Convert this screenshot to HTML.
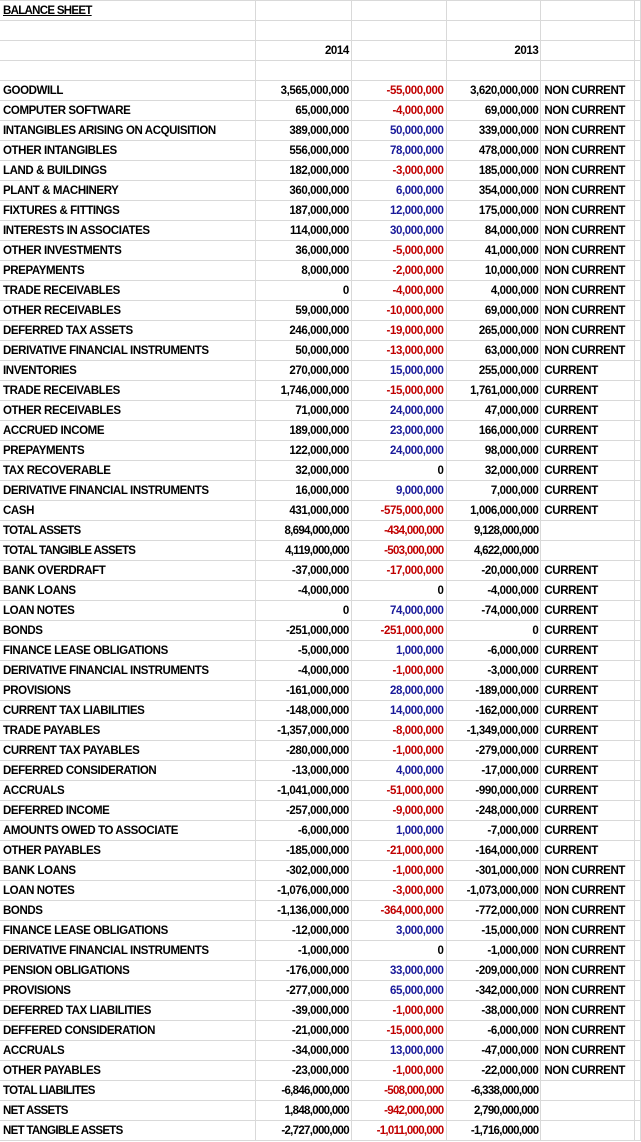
<!DOCTYPE html>
<html><head><meta charset="utf-8"><style>
html,body{margin:0;padding:0;background:#fff;}
body{width:641px;height:1142px;overflow:hidden;}
table{border-collapse:collapse;table-layout:fixed;position:absolute;left:0;top:0;font-family:"Liberation Sans",Arial,sans-serif;font-weight:bold;font-size:11.5px;color:#000;}
td{height:17px;border-right:1px solid #d9d9d9;border-bottom:1px solid #d9d9d9;padding:2px 2px 0 3px;white-space:nowrap;overflow:hidden;line-height:17px;letter-spacing:-0.4px;vertical-align:top;}
tr:first-child td{border-top:1px solid #d9d9d9;}
td.n{text-align:right;padding-right:2px;}
.r{color:#c00000;}.b{color:#1a1a9a;}
.t td{letter-spacing:-0.7px;}
u{text-decoration:underline;}
</style></head><body>
<table>
<colgroup><col style="width:258px"><col style="width:97px"><col style="width:96px"><col style="width:96px"><col style="width:94px"><col style="width:4px"></colgroup>
<tr class="t"><td><u>BALANCE SHEET</u></td><td></td><td></td><td></td><td></td><td></td></tr>
<tr><td></td><td></td><td></td><td></td><td></td><td></td></tr>
<tr><td></td><td class="n">2014</td><td></td><td class="n">2013</td><td></td><td></td></tr>
<tr><td></td><td></td><td></td><td></td><td></td><td></td></tr>
<tr><td>GOODWILL</td><td class="n">3,565,000,000</td><td class="n r">-55,000,000</td><td class="n">3,620,000,000</td><td>NON CURRENT</td><td></td></tr>
<tr><td>COMPUTER SOFTWARE</td><td class="n">65,000,000</td><td class="n r">-4,000,000</td><td class="n">69,000,000</td><td>NON CURRENT</td><td></td></tr>
<tr><td>INTANGIBLES ARISING ON ACQUISITION</td><td class="n">389,000,000</td><td class="n b">50,000,000</td><td class="n">339,000,000</td><td>NON CURRENT</td><td></td></tr>
<tr><td>OTHER INTANGIBLES</td><td class="n">556,000,000</td><td class="n b">78,000,000</td><td class="n">478,000,000</td><td>NON CURRENT</td><td></td></tr>
<tr><td>LAND &amp; BUILDINGS</td><td class="n">182,000,000</td><td class="n r">-3,000,000</td><td class="n">185,000,000</td><td>NON CURRENT</td><td></td></tr>
<tr><td>PLANT &amp; MACHINERY</td><td class="n">360,000,000</td><td class="n b">6,000,000</td><td class="n">354,000,000</td><td>NON CURRENT</td><td></td></tr>
<tr><td>FIXTURES &amp; FITTINGS</td><td class="n">187,000,000</td><td class="n b">12,000,000</td><td class="n">175,000,000</td><td>NON CURRENT</td><td></td></tr>
<tr><td>INTERESTS IN ASSOCIATES</td><td class="n">114,000,000</td><td class="n b">30,000,000</td><td class="n">84,000,000</td><td>NON CURRENT</td><td></td></tr>
<tr><td>OTHER INVESTMENTS</td><td class="n">36,000,000</td><td class="n r">-5,000,000</td><td class="n">41,000,000</td><td>NON CURRENT</td><td></td></tr>
<tr><td>PREPAYMENTS</td><td class="n">8,000,000</td><td class="n r">-2,000,000</td><td class="n">10,000,000</td><td>NON CURRENT</td><td></td></tr>
<tr><td>TRADE RECEIVABLES</td><td class="n">0</td><td class="n r">-4,000,000</td><td class="n">4,000,000</td><td>NON CURRENT</td><td></td></tr>
<tr><td>OTHER RECEIVABLES</td><td class="n">59,000,000</td><td class="n r">-10,000,000</td><td class="n">69,000,000</td><td>NON CURRENT</td><td></td></tr>
<tr><td>DEFERRED TAX ASSETS</td><td class="n">246,000,000</td><td class="n r">-19,000,000</td><td class="n">265,000,000</td><td>NON CURRENT</td><td></td></tr>
<tr><td>DERIVATIVE FINANCIAL INSTRUMENTS</td><td class="n">50,000,000</td><td class="n r">-13,000,000</td><td class="n">63,000,000</td><td>NON CURRENT</td><td></td></tr>
<tr><td>INVENTORIES</td><td class="n">270,000,000</td><td class="n b">15,000,000</td><td class="n">255,000,000</td><td>CURRENT</td><td></td></tr>
<tr><td>TRADE RECEIVABLES</td><td class="n">1,746,000,000</td><td class="n r">-15,000,000</td><td class="n">1,761,000,000</td><td>CURRENT</td><td></td></tr>
<tr><td>OTHER RECEIVABLES</td><td class="n">71,000,000</td><td class="n b">24,000,000</td><td class="n">47,000,000</td><td>CURRENT</td><td></td></tr>
<tr><td>ACCRUED INCOME</td><td class="n">189,000,000</td><td class="n b">23,000,000</td><td class="n">166,000,000</td><td>CURRENT</td><td></td></tr>
<tr><td>PREPAYMENTS</td><td class="n">122,000,000</td><td class="n b">24,000,000</td><td class="n">98,000,000</td><td>CURRENT</td><td></td></tr>
<tr><td>TAX RECOVERABLE</td><td class="n">32,000,000</td><td class="n">0</td><td class="n">32,000,000</td><td>CURRENT</td><td></td></tr>
<tr><td>DERIVATIVE FINANCIAL INSTRUMENTS</td><td class="n">16,000,000</td><td class="n b">9,000,000</td><td class="n">7,000,000</td><td>CURRENT</td><td></td></tr>
<tr><td>CASH</td><td class="n">431,000,000</td><td class="n r">-575,000,000</td><td class="n">1,006,000,000</td><td>CURRENT</td><td></td></tr>
<tr class="t"><td>TOTAL ASSETS</td><td class="n">8,694,000,000</td><td class="n r">-434,000,000</td><td class="n">9,128,000,000</td><td></td><td></td></tr>
<tr class="t"><td>TOTAL TANGIBLE ASSETS</td><td class="n">4,119,000,000</td><td class="n r">-503,000,000</td><td class="n">4,622,000,000</td><td></td><td></td></tr>
<tr><td>BANK OVERDRAFT</td><td class="n">-37,000,000</td><td class="n r">-17,000,000</td><td class="n">-20,000,000</td><td>CURRENT</td><td></td></tr>
<tr><td>BANK LOANS</td><td class="n">-4,000,000</td><td class="n">0</td><td class="n">-4,000,000</td><td>CURRENT</td><td></td></tr>
<tr><td>LOAN NOTES</td><td class="n">0</td><td class="n b">74,000,000</td><td class="n">-74,000,000</td><td>CURRENT</td><td></td></tr>
<tr><td>BONDS</td><td class="n">-251,000,000</td><td class="n r">-251,000,000</td><td class="n">0</td><td>CURRENT</td><td></td></tr>
<tr><td>FINANCE LEASE OBLIGATIONS</td><td class="n">-5,000,000</td><td class="n b">1,000,000</td><td class="n">-6,000,000</td><td>CURRENT</td><td></td></tr>
<tr><td>DERIVATIVE FINANCIAL INSTRUMENTS</td><td class="n">-4,000,000</td><td class="n r">-1,000,000</td><td class="n">-3,000,000</td><td>CURRENT</td><td></td></tr>
<tr><td>PROVISIONS</td><td class="n">-161,000,000</td><td class="n b">28,000,000</td><td class="n">-189,000,000</td><td>CURRENT</td><td></td></tr>
<tr><td>CURRENT TAX LIABILITIES</td><td class="n">-148,000,000</td><td class="n b">14,000,000</td><td class="n">-162,000,000</td><td>CURRENT</td><td></td></tr>
<tr><td>TRADE PAYABLES</td><td class="n">-1,357,000,000</td><td class="n r">-8,000,000</td><td class="n">-1,349,000,000</td><td>CURRENT</td><td></td></tr>
<tr><td>CURRENT TAX PAYABLES</td><td class="n">-280,000,000</td><td class="n r">-1,000,000</td><td class="n">-279,000,000</td><td>CURRENT</td><td></td></tr>
<tr><td>DEFERRED CONSIDERATION</td><td class="n">-13,000,000</td><td class="n b">4,000,000</td><td class="n">-17,000,000</td><td>CURRENT</td><td></td></tr>
<tr><td>ACCRUALS</td><td class="n">-1,041,000,000</td><td class="n r">-51,000,000</td><td class="n">-990,000,000</td><td>CURRENT</td><td></td></tr>
<tr><td>DEFERRED INCOME</td><td class="n">-257,000,000</td><td class="n r">-9,000,000</td><td class="n">-248,000,000</td><td>CURRENT</td><td></td></tr>
<tr><td>AMOUNTS OWED TO ASSOCIATE</td><td class="n">-6,000,000</td><td class="n b">1,000,000</td><td class="n">-7,000,000</td><td>CURRENT</td><td></td></tr>
<tr><td>OTHER PAYABLES</td><td class="n">-185,000,000</td><td class="n r">-21,000,000</td><td class="n">-164,000,000</td><td>CURRENT</td><td></td></tr>
<tr><td>BANK LOANS</td><td class="n">-302,000,000</td><td class="n r">-1,000,000</td><td class="n">-301,000,000</td><td>NON CURRENT</td><td></td></tr>
<tr><td>LOAN NOTES</td><td class="n">-1,076,000,000</td><td class="n r">-3,000,000</td><td class="n">-1,073,000,000</td><td>NON CURRENT</td><td></td></tr>
<tr><td>BONDS</td><td class="n">-1,136,000,000</td><td class="n r">-364,000,000</td><td class="n">-772,000,000</td><td>NON CURRENT</td><td></td></tr>
<tr><td>FINANCE LEASE OBLIGATIONS</td><td class="n">-12,000,000</td><td class="n b">3,000,000</td><td class="n">-15,000,000</td><td>NON CURRENT</td><td></td></tr>
<tr><td>DERIVATIVE FINANCIAL INSTRUMENTS</td><td class="n">-1,000,000</td><td class="n">0</td><td class="n">-1,000,000</td><td>NON CURRENT</td><td></td></tr>
<tr><td>PENSION OBLIGATIONS</td><td class="n">-176,000,000</td><td class="n b">33,000,000</td><td class="n">-209,000,000</td><td>NON CURRENT</td><td></td></tr>
<tr><td>PROVISIONS</td><td class="n">-277,000,000</td><td class="n b">65,000,000</td><td class="n">-342,000,000</td><td>NON CURRENT</td><td></td></tr>
<tr><td>DEFERRED TAX LIABILITIES</td><td class="n">-39,000,000</td><td class="n r">-1,000,000</td><td class="n">-38,000,000</td><td>NON CURRENT</td><td></td></tr>
<tr><td>DEFFERED CONSIDERATION</td><td class="n">-21,000,000</td><td class="n r">-15,000,000</td><td class="n">-6,000,000</td><td>NON CURRENT</td><td></td></tr>
<tr><td>ACCRUALS</td><td class="n">-34,000,000</td><td class="n b">13,000,000</td><td class="n">-47,000,000</td><td>NON CURRENT</td><td></td></tr>
<tr><td>OTHER PAYABLES</td><td class="n">-23,000,000</td><td class="n r">-1,000,000</td><td class="n">-22,000,000</td><td>NON CURRENT</td><td></td></tr>
<tr class="t"><td>TOTAL LIABILITES</td><td class="n">-6,846,000,000</td><td class="n r">-508,000,000</td><td class="n">-6,338,000,000</td><td></td><td></td></tr>
<tr class="t"><td>NET ASSETS</td><td class="n">1,848,000,000</td><td class="n r">-942,000,000</td><td class="n">2,790,000,000</td><td></td><td></td></tr>
<tr class="t"><td>NET TANGIBLE ASSETS</td><td class="n">-2,727,000,000</td><td class="n r">-1,011,000,000</td><td class="n">-1,716,000,000</td><td></td><td></td></tr>
</table>
</body></html>
